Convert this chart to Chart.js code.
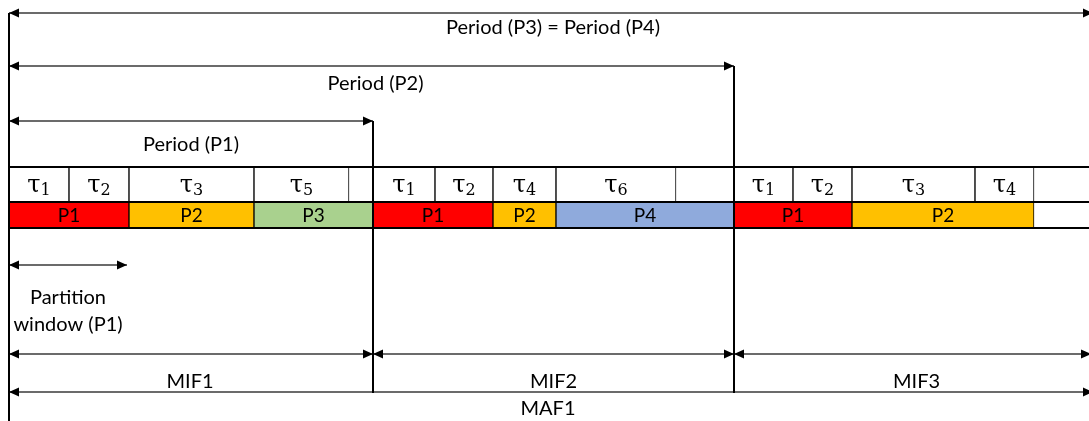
<!DOCTYPE html>
<html><head><meta charset="utf-8">
<script src="https://cdn.jsdelivr.net/npm/chart.js@4/dist/chart.umd.min.js"></script>
<style>html,body{margin:0;padding:0;background:#fff}#wrap{width:1089px;height:421px;position:relative}</style>
</head><body><div id="wrap"><canvas id="c"></canvas></div>
<script>
// ---- data (time units along the schedule) ----
const taskSub   = ['1','2','3','5','1','2','4','6','1','2','3','4'];
const taskStart = [0, 60, 120, 245, 364, 426, 484, 547, 725, 784, 843, 966];
const taskEnd   = [60, 120, 245, 340, 426, 484, 547, 667, 784, 843, 966, 1025];
const partNames = ['P1','P2','P3','P1','P2','P4','P1','P2'];
const partStart = [0, 120, 245, 364, 484, 547, 725, 843];
const partEnd   = [120, 245, 364, 484, 547, 725, 843, 1025];
const arrowNames = ['Period (P3) = Period (P4)','Period (P2)','Period (P1)','Partition window (P1)','MIF1','MIF2','MIF3','MAF1'];
const arrowStart = [0, 0, 0, 0, 0, 364, 725, 0];
const arrowEnd   = [1084, 725, 364, 118, 364, 725, 1082, 1084];
const boundaries = [0, 364, 725];
const tableEnd = 1080;

// ---- layout / style ----
const L = {
  taskRow: [167, 202], partRow: [202, 228],
  arrowY: [13, 66, 121, 265, 354, 354, 354, 392],
  labelY: [28, 84, 145, null, 382, 382, 382, 409],
  labelDx: [2, 4, 0, 0, -1, 0, 4, -3],
  boundaryY: [[13, 421], [121, 393], [66, 393]],
  tableLines: [167, 202, 228]
};
const partColor = {P1:'#FF0000', P2:'#FFC000', P3:'#A9D18E', P4:'#8FAADC'};
const FONT = 'Lato, "Open Sans", sans-serif';

const datasets = [];
// table horizontal lines
L.tableLines.forEach(y => datasets.push({type:'line', data:[{x:0,y},{x:tableEnd+10,y}], borderColor:'#000', borderWidth:2, pointRadius:0, clip:false, order:1}));
// task cells
datasets.push({type:'bar', indexAxis:'y', grouped:false, barThickness: L.taskRow[1]-L.taskRow[0],
  data: taskStart.map((s,i)=>({x:[s,taskEnd[i]], y:(L.taskRow[0]+L.taskRow[1])/2})),
  backgroundColor:'#fff', borderColor:'#000', borderWidth:{left:1,right:1,top:0,bottom:0}, borderSkipped:false, order:3});
// partition cells
datasets.push({type:'bar', indexAxis:'y', grouped:false, barThickness: L.partRow[1]-L.partRow[0],
  data: partStart.map((s,i)=>({x:[s,partEnd[i]], y:(L.partRow[0]+L.partRow[1])/2})),
  backgroundColor: partNames.map(n=>partColor[n]), borderColor:'#000', borderWidth:{left:1,right:1,top:0,bottom:0}, borderSkipped:false, order:3});
// boundary vertical lines
boundaries.forEach((b,i)=>datasets.push({type:'line', data:[{x:b,y:L.boundaryY[i][0]},{x:b,y:L.boundaryY[i][1]}], borderColor:'#000', borderWidth:2, pointRadius:0, clip:false, order:0}));
// arrows
arrowStart.forEach((s,i)=>datasets.push({type:'line', isArrow:true, data:[{x:s,y:L.arrowY[i]},{x:arrowEnd[i],y:L.arrowY[i]}], borderColor:'#3a3a3a', borderWidth:1.4, pointRadius:0, clip:false, order:2}));

const textPlugin = {
  id:'texts',
  afterDatasetsDraw(chart){
    const ctx = chart.ctx, xs = chart.scales.x, ys = chart.scales.y;
    ctx.save();
    // arrowheads
    ctx.fillStyle = '#000';
    chart.data.datasets.forEach((ds,i)=>{
      if(!ds.isArrow) return;
      const pts = chart.getDatasetMeta(i).data;
      const a = pts[0], b = pts[pts.length-1];
      const head = (tip, dir) => {
        ctx.beginPath();
        ctx.moveTo(tip.x, tip.y);
        ctx.lineTo(tip.x - dir*10, tip.y - 4.5);
        ctx.lineTo(tip.x - dir*10, tip.y + 4.5);
        ctx.closePath(); ctx.fill();
      };
      head(a, -1); head(b, 1);
    });
    ctx.fillStyle = '#000';
    ctx.textAlign = 'center'; ctx.textBaseline = 'middle';
    // arrow labels
    ctx.font = '20px ' + FONT;
    arrowNames.forEach((n,i)=>{
      const cx = (xs.getPixelForValue(arrowStart[i]) + Math.min(xs.getPixelForValue(arrowEnd[i]), chart.width+4))/2 + L.labelDx[i];
      if (L.labelY[i] === null) {
        const parts = ['Partition','window (P1)'];
        const y0 = ys.getPixelForValue(L.arrowY[i]);
        ctx.fillText(parts[0], cx, y0 + 33);
        ctx.fillText(parts[1], cx, y0 + 60);
      } else {
        ctx.fillText(n, cx, ys.getPixelForValue(L.labelY[i]));
      }
    });
    // partition labels
    ctx.font = '19px ' + FONT;
    partNames.forEach((n,i)=>{
      const cx = (xs.getPixelForValue(partStart[i]) + xs.getPixelForValue(partEnd[i]))/2;
      ctx.fillText(n, cx, ys.getPixelForValue((L.partRow[0]+L.partRow[1])/2)+0.5);
    });
    // task labels: tau with subscript
    ctx.textAlign = 'left'; ctx.textBaseline = 'alphabetic';
    taskSub.forEach((s,i)=>{
      const cx = (xs.getPixelForValue(taskStart[i]) + xs.getPixelForValue(taskEnd[i]))/2;
      ctx.font = '24px "DejaVu Serif", serif';
      const wt = ctx.measureText('\u03C4').width;
      ctx.font = '16px "DejaVu Serif", serif';
      const ws = ctx.measureText(s).width;
      const x0 = cx - (wt + ws)/2;
      const base = ys.getPixelForValue(L.taskRow[0]) + 25;
      ctx.font = '24px "DejaVu Serif", serif';
      ctx.fillText('\u03C4', x0, base);
      ctx.font = '16px "DejaVu Serif", serif';
      ctx.fillText(s, x0 + wt, base + 3);
    });
    ctx.restore();
  }
};

new Chart(document.getElementById('c'), {
  type:'bar',
  data:{datasets},
  options:{
    indexAxis:'y',
    responsive:true, maintainAspectRatio:false, animation:false, events:[],
    layout:{padding:{left:9,right:0,top:0,bottom:0}},
    scales:{
      x:{type:'linear', min:0, max:tableEnd, display:false, offset:false},
      y:{type:'linear', min:0, max:421, reverse:true, display:false, offset:false}
    },
    plugins:{legend:{display:false}, tooltip:{enabled:false}}
  },
  plugins:[textPlugin]
});
</script></body></html>
